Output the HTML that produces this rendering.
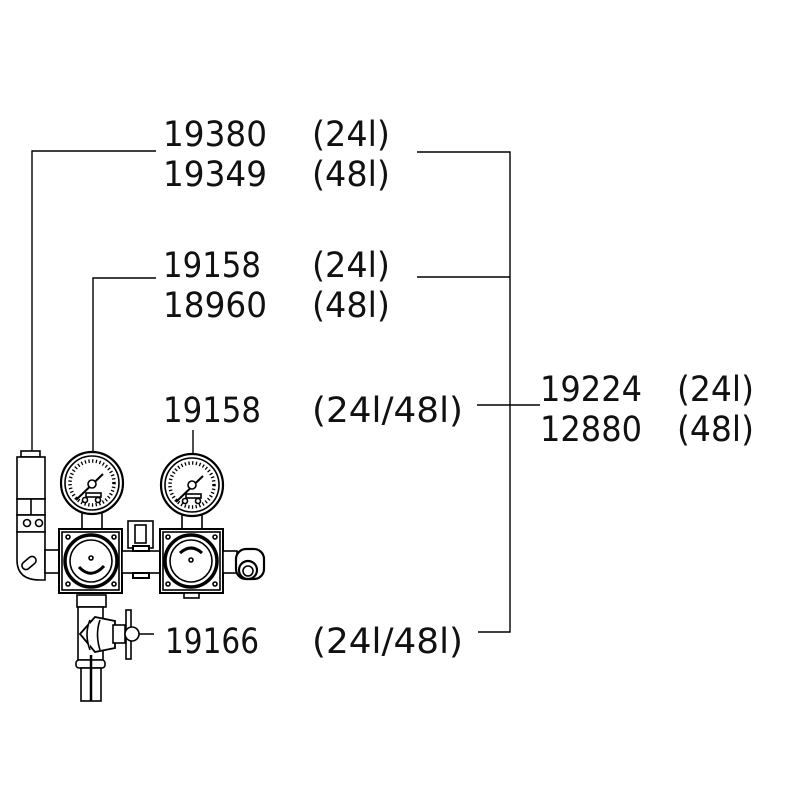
<!DOCTYPE html>
<html><head><meta charset="utf-8"><style>
html,body{margin:0;padding:0;background:#fff;width:800px;height:800px;overflow:hidden}
text{font-family:"DejaVu Sans","Liberation Sans",sans-serif;font-size:35px;fill:#111}
</style></head><body>
<svg width="800" height="800" viewBox="0 0 800 800" xmlns="http://www.w3.org/2000/svg">
<g fill="none" stroke="#000" stroke-width="1.4">
<polyline points="156,151 32,151 32,451"/>
<polyline points="156,278 93,278 93,452"/>
<line x1="193" y1="430" x2="193" y2="454"/>
<polyline points="417,152 510,152 510,632 478,632"/>
<line x1="417" y1="277" x2="510" y2="277"/>
<line x1="477" y1="405" x2="540" y2="405"/>
<line x1="135" y1="634" x2="154" y2="634"/>
</g>
<g>
<text x="163" y="146" textLength="104" lengthAdjust="spacingAndGlyphs">19380</text>
<text x="312" y="146" textLength="78" lengthAdjust="spacingAndGlyphs">(24l)</text>
<text x="163" y="186" textLength="104" lengthAdjust="spacingAndGlyphs">19349</text>
<text x="312" y="186" textLength="78" lengthAdjust="spacingAndGlyphs">(48l)</text>
<text x="163" y="277" textLength="98" lengthAdjust="spacingAndGlyphs">19158</text>
<text x="312" y="277" textLength="78" lengthAdjust="spacingAndGlyphs">(24l)</text>
<text x="163" y="317" textLength="104" lengthAdjust="spacingAndGlyphs">18960</text>
<text x="312" y="317" textLength="78" lengthAdjust="spacingAndGlyphs">(48l)</text>
<text x="163" y="422" textLength="98" lengthAdjust="spacingAndGlyphs">19158</text>
<text x="312" y="422" textLength="151" lengthAdjust="spacingAndGlyphs">(24l/48l)</text>
<text x="540" y="401" textLength="102" lengthAdjust="spacingAndGlyphs">19224</text>
<text x="677" y="401" textLength="77" lengthAdjust="spacingAndGlyphs">(24l)</text>
<text x="540" y="441" textLength="102" lengthAdjust="spacingAndGlyphs">12880</text>
<text x="677" y="441" textLength="77" lengthAdjust="spacingAndGlyphs">(48l)</text>
<text x="165" y="653" textLength="94" lengthAdjust="spacingAndGlyphs">19166</text>
<text x="312" y="653" textLength="151" lengthAdjust="spacingAndGlyphs">(24l/48l)</text>
</g>
<g fill="#fff" stroke="#000" stroke-width="1.6">
<rect x="21" y="451" width="19" height="6"/>
<rect x="17" y="457" width="28" height="42"/>
<rect x="17" y="499" width="28" height="16"/>
<line x1="31" y1="499" x2="31" y2="515"/>
<rect x="17" y="515" width="28" height="17"/>
<circle cx="27" cy="523" r="3.5"/><circle cx="39" cy="523" r="3.5"/>
<path d="M17,532 L17,560 Q17,580 40,580 L45,580 L45,532 Z"/>
<rect x="45" y="550" width="14" height="23"/>
<rect x="25" y="555" width="8" height="16" rx="4" transform="rotate(50 29 563)"/>
<rect x="82" y="513" width="20" height="17"/>
<circle cx="92" cy="483" r="31" stroke-width="2.2"/>
<circle cx="92" cy="483" r="27"/>
<circle cx="92" cy="483" r="22" stroke-width="3.5" stroke-dasharray="1.3 2.4"/>
<line x1="76" y1="500" x2="103" y2="474" stroke-width="2"/>
<circle cx="92" cy="484" r="4"/>
<rect x="86" y="493" width="15" height="4" fill="none"/>
<circle cx="85" cy="500" r="2.5"/><circle cx="98" cy="500" r="2.5"/>
<rect x="59" y="529" width="63" height="64" stroke-width="2"/>
<rect x="62" y="532" width="57" height="58"/>
<circle cx="91" cy="561" r="26" stroke-width="3.5"/>
<circle cx="91" cy="561" r="21"/>
<circle cx="91" cy="558" r="2"/>
<path d="M79,567 Q91,580 104,566" stroke-width="3"/>
<circle cx="68" cy="537" r="2"/><circle cx="114" cy="584" r="2"/><circle cx="68" cy="584" r="2"/><circle cx="114" cy="537" r="2"/>
<rect x="128" y="521" width="25" height="27"/>
<rect x="135" y="525" width="11" height="18"/>
<rect x="122" y="551" width="38" height="22"/>
<rect x="133" y="546" width="16" height="5" stroke-width="2"/>
<rect x="133" y="573" width="16" height="5" stroke-width="2"/>
<rect x="182" y="514" width="20" height="15"/>
<circle cx="192" cy="485" r="31" stroke-width="2.2"/>
<circle cx="192" cy="485" r="27"/>
<circle cx="192" cy="485" r="22" stroke-width="3.5" stroke-dasharray="1.3 2.4"/>
<line x1="176" y1="502" x2="203" y2="476" stroke-width="2"/>
<circle cx="192" cy="485" r="4"/>
<rect x="186" y="494" width="15" height="4" fill="none"/>
<circle cx="185" cy="501" r="2.5"/><circle cx="198" cy="501" r="2.5"/>
<rect x="160" y="529" width="63" height="64" stroke-width="2"/>
<rect x="163" y="532" width="57" height="58"/>
<circle cx="191" cy="561" r="26" stroke-width="3.5"/>
<circle cx="191" cy="561" r="21"/>
<circle cx="191" cy="560" r="2"/>
<path d="M180,553 Q191,543 202,553" stroke-width="3"/>
<rect x="184" y="593" width="15" height="5"/>
<circle cx="168" cy="537" r="2"/><circle cx="215" cy="584" r="2"/><circle cx="168" cy="584" r="2"/><circle cx="215" cy="537" r="2"/>
<rect x="223" y="551" width="14" height="22"/>
<rect x="236" y="549" width="28" height="30" rx="10" stroke-width="2.2"/>
<circle cx="248" cy="570" r="9" stroke-width="2.2"/>
<circle cx="248" cy="571" r="5"/>
<rect x="77" y="595" width="29" height="12"/>
<rect x="78" y="607" width="25" height="53"/>
<rect x="76" y="660" width="29" height="8" rx="3"/>
<rect x="81" y="668" width="20" height="33"/>
<line x1="91" y1="655" x2="91" y2="701" stroke-width="2.5"/>
<path d="M80,634 L95,617 L115,621 L115,648 L95,652 Z" stroke-width="1.8"/>
<path d="M90,620 Q84,634 90,650" /><path d="M100,620 Q95,634 100,650"/>
<rect x="113" y="625" width="12" height="18"/>
<rect x="126" y="610" width="5" height="49"/>
<circle cx="132" cy="634" r="7"/>
</g>
</svg>
</body></html>
